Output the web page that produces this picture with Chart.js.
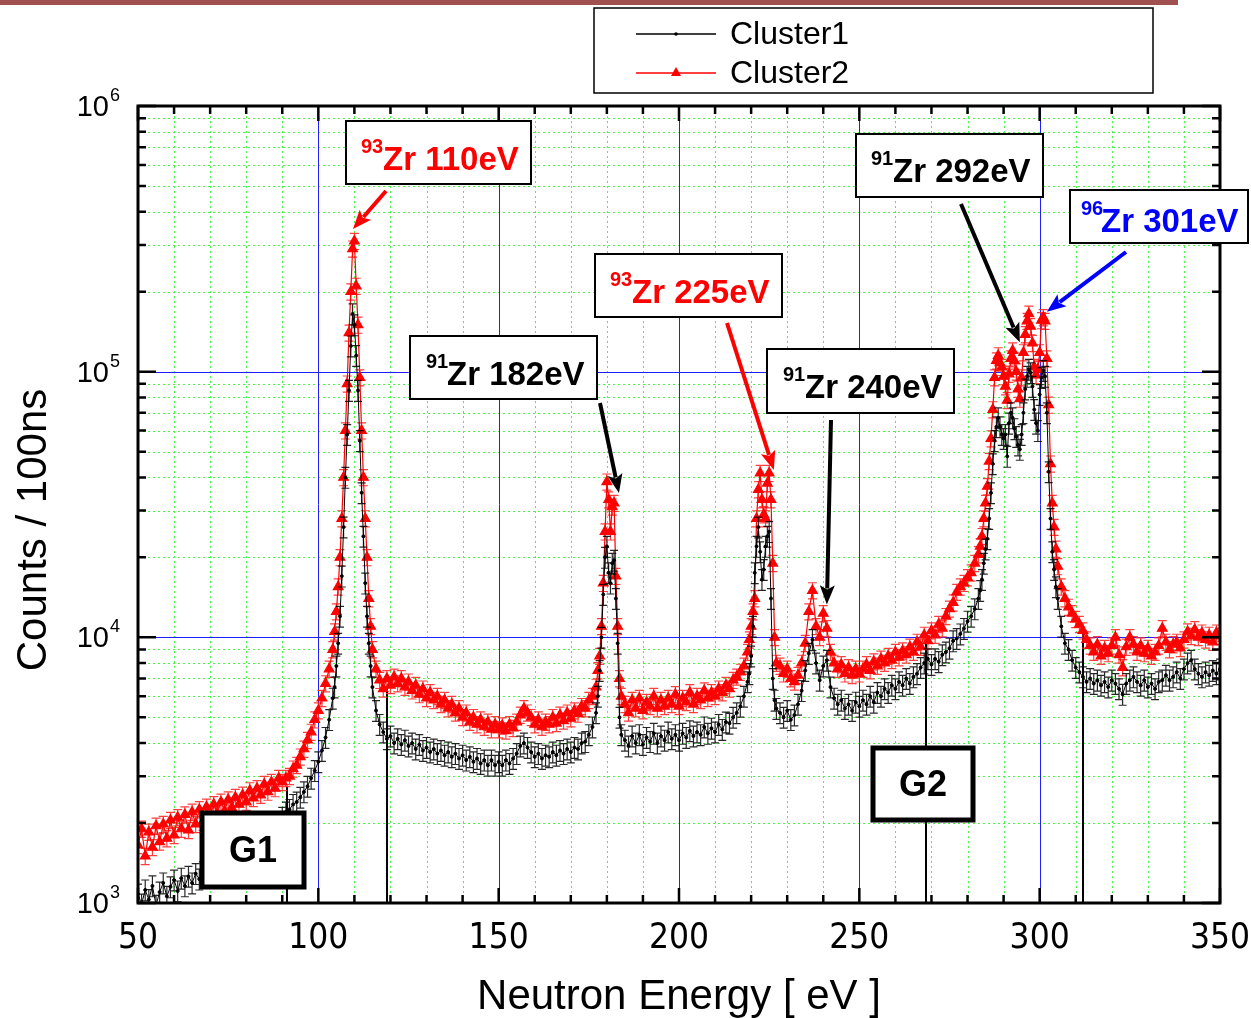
<!DOCTYPE html>
<html><head><meta charset="utf-8">
<script src="https://cdn.jsdelivr.net/npm/chart.js@4.4.1/dist/chart.umd.min.js"></script>
<style>html,body{margin:0;padding:0;background:#fff;}#wrap{width:1251px;height:1018px;}</style>
</head><body><div id="wrap"><canvas id="c" width="1251" height="1018"></canvas></div>
<script>
// ---- data ----
const energy = [
50,51,52,53,54,55,56,57,58,59,60,61,62,63,64,65,66,67,68,69,70,71,72,73,74,75,76,77,78,79,
80,81,82,83,84,85,86,87,88,89,90,91,92,93,94,95,96,97,98,99,100,101,102,103,104,
104.5,105,105.5,106,106.5,107,107.5,108,108.5,109,109.5,110,110.5,111,111.5,112,112.5,113,113.5,114,114.5,115,
116,117,118,119,120,121,122,123,124,125,126,127,128,129,130,131,132,133,134,135,136,137,138,139,140,
141,142,143,144,145,146,147,148,149,150,151,152,153,154,155,156,157,158,159,160,161,162,163,164,165,
166,167,168,169,170,171,172,173,174,175,176,177,
177.5,178,178.5,179,179.5,180,180.5,181,181.5,182,182.5,183,183.5,184,
185,186,187,188,189,190,191,192,193,194,195,196,197,198,199,200,201,202,203,204,205,206,207,208,209,
210,211,212,213,214,215,216,217,218,219,
219.5,220,220.5,221,221.5,222,222.5,223,223.5,224,224.5,225,225.5,226,226.5,227,
228,229,230,231,232,233,234,235,236,237,238,239,240,241,242,243,244,245,246,247,248,249,250,
251,252,253,254,255,256,257,258,259,260,261,262,263,264,265,266,267,268,269,270,271,272,273,274,275,
276,277,278,279,280,281,282,283,
283.5,284,284.5,285,285.5,286,286.5,287,287.5,288,288.5,289,289.5,290,290.5,291,291.5,292,292.5,293,
293.5,294,294.5,295,295.5,296,296.5,297,297.5,298,298.5,299,299.5,300,300.5,301,301.5,302,302.5,303,
303.5,304,304.5,305,
306,307,308,309,310,311,312,313,314,315,316,317,318,319,320,321,322,323,324,325,326,327,328,329,330,
331,332,333,334,335,336,337,338,339,340,341,342,343,344,345,346,347,348,349,350
];
const cluster1 = [
1080,990,1120,1030,1160,980,1100,1190,1060,1150,1220,1110,1240,1160,1260,1190,1290,1230,1310,1270,
1360,1320,1410,1370,1440,1410,1480,1450,1530,1500,1570,1600,1640,1680,1720,1780,1830,1880,1950,2020,
2100,2200,2250,2350,2400,2500,2620,2750,2950,3150,3400,3750,4200,4900,5900,
6500,7800,9500,12000,17000,26000,40000,58000,85000,125000,165000,150000,115000,85000,55000,35000,24000,16000,12000,9500,7800,6500,
5300,4700,4400,4150,4250,4000,4150,3950,4100,3900,4000,3800,3950,3750,3850,3700,3800,3650,3750,3600,
3700,3550,3650,3500,3600,3450,3550,3400,3500,3350,3450,3300,3450,3300,3400,3300,3450,3350,3500,3650,
3900,4000,3850,3700,3550,3650,3500,3600,3550,3700,3600,3750,3650,3800,3700,3850,3800,4000,4050,4300,
4600,5200,
6000,7500,10000,14500,20000,22000,17500,16000,19000,19500,14000,9500,5000,4300,
4100,3900,4250,4000,4300,3950,4200,4050,4350,4000,4250,4100,4400,4150,4300,4100,4350,4200,4450,4250,
4400,4300,4600,4350,4550,4400,4700,4500,4800,4750,5000,5200,5500,6000,6800,
7300,8500,11000,17500,22000,26000,21000,16500,18000,22000,24000,25000,14000,7000,5800,5400,
5200,5000,5300,4900,5100,5600,6300,7500,8700,9800,8000,6900,7800,8200,6500,5900,5600,5800,5400,5600,
5300,5700,5500,5800,5600,6000,5700,6200,6000,6400,6200,6600,6400,6800,6600,7000,6700,7100,7300,7700,
8000,8300,7900,8300,8100,8600,8800,9100,9700,9900,10300,10800,11500,12000,12800,14000,
15000,16500,19000,21500,23500,28000,35000,45000,55000,62000,67000,62000,58000,56000,58000,48000,64000,70000,67000,61000,
57000,53000,51000,58000,70000,86000,96000,102000,99000,88000,72000,64000,60000,82000,95000,101000,96000,70000,42000,28000,
21000,18000,15500,14000,
11000,9500,9000,8200,7700,7400,7100,6800,7000,6700,6900,6600,6800,6500,6900,6700,6400,6100,6700,6900,
7100,6800,6600,6900,6500,6700,6400,6800,6900,7200,6900,7100,7400,7000,7600,8000,8200,7600,7300,7100,
7400,7200,7500,7300,7600
];
const cluster2 = [
1650,1900,1500,1850,1620,1950,1700,1980,1750,2050,1800,2100,1900,2150,1880,2200,1980,2250,2020,2300,
2120,2350,2180,2400,2220,2450,2280,2500,2350,2550,2400,2650,2480,2700,2550,2800,2620,2850,2700,2950,
2850,2950,3000,3200,3300,3550,3800,4100,4400,4900,5300,5900,6700,7600,9000,
10500,12500,15500,20000,28000,40000,60000,90000,140000,200000,290000,310000,210000,150000,95000,60000,40000,28000,20000,14000,11000,9000,
7600,6900,6400,7000,6600,7100,6700,7000,6500,6800,6300,6600,6100,6400,5900,6200,5800,6000,5600,5800,
5400,5600,5200,5400,5000,5200,4800,5000,4700,4900,4600,4800,4500,4700,4500,4650,4450,4700,4550,4800,
5100,5400,5200,5000,4700,4900,4600,4800,4700,5000,4750,5100,4850,5200,4950,5300,5150,5500,5400,5800,
6000,6500,
7500,8500,11000,16000,25000,38500,33000,25000,31000,32000,17000,11000,7000,6000,
5600,5200,5800,5400,5900,5300,5700,5500,6000,5400,5800,5500,5900,5600,6100,5500,5900,5700,6200,5600,
6000,5800,6300,5900,6200,6000,6400,6200,6600,6400,6900,7100,7400,7800,8800,
9800,11000,12500,14000,28000,36000,41500,33000,29000,28000,38000,41500,33000,19000,10000,8000,
7800,7300,7600,7000,6800,7200,8000,9500,12500,15000,11000,10000,12300,10800,8800,8000,7600,7900,7300,7700,
7200,7600,7300,7600,7900,7500,8100,7800,8300,8000,8500,8200,8800,8400,8900,8600,9200,8800,9600,9200,
10200,9700,10600,10200,11200,10800,12000,12800,13500,14800,15500,16000,16800,17500,19000,20500,
22000,24000,28000,32000,37000,46000,56000,72000,95000,110000,115000,108000,104000,96000,88000,78000,98000,112000,120000,110000,
100000,86000,79000,95000,118000,138000,155000,165000,148000,128000,104000,97000,102000,118000,156000,160000,155000,112000,75000,45000,
32000,26000,21500,18500,
15500,14000,13000,12300,11700,11200,10600,9800,9300,8800,9400,8500,9100,8700,9300,10000,8600,7700,9200,10000,
9400,8800,9300,8700,9100,8500,8800,9300,10800,9600,9000,9400,9600,9100,9800,10500,10100,10700,10000,10400,
9800,10200,9600,10400,10100
];
const seriesNames = ['Cluster1', 'Cluster2'];
const xGrid = [50,60,70,80,90,100,110,120,130,140,150,160,170,180,190,200,210,220,230,240,250,260,270,280,290,300,310,320,330,340,350];
const xTickLabels = [50,100,150,200,250,300,350];
const yGrid = [1000,2000,3000,4000,5000,6000,7000,8000,9000,
  10000,20000,30000,40000,50000,60000,70000,80000,90000,
  100000,200000,300000,400000,500000,600000,700000,800000,900000,1000000];
const yDecades = [1000,10000,100000,1000000];
const yDecadeExp = ['3','4','5','6'];
// vertical gate marker lines (energy, top count)
const markerEnergy = [91.2, 119.1, 268.6, 312.1];
const markerTop = [2750, 6500, 9800, 11100];

// ---- decoration config (pixel layout) ----
const FONT = '"Liberation Sans", Arial, Helvetica, sans-serif';
const NARROW = '"Liberation Sans Narrow", "Arial Narrow", "DejaVu Sans Condensed", "Liberation Sans", sans-serif';
const notes = [
  {sup:'93', text:'Zr 110eV', color:'#ff0000', box:[346,121,531,184], supX:361, textX:383, base:170, tail:[386,191], tipE:109.6, tipV:344000},
  {sup:'91', text:'Zr 182eV', color:'#000000', box:[410,336,597,399], supX:426, textX:447, base:385, tail:[600,403], tipE:183.35, tipV:34900},
  {sup:'93', text:'Zr 225eV', color:'#ff0000', box:[595,254,782,317], supX:610, textX:632, base:303, tail:[727,323], tipE:226.3, tipV:42600},
  {sup:'91', text:'Zr 240eV', color:'#000000', box:[767,349,954,413], supX:783, textX:805, base:398, tail:[831,420], tipE:241.0, tipV:13300},
  {sup:'91', text:'Zr 292eV', color:'#000000', box:[856,134,1043,197], supX:871, textX:893, base:182, tail:[961,204], tipE:294.5, tipV:129000},
  {sup:'96', text:'Zr 301eV', color:'#0000ff', box:[1070,190,1248,243], supX:1081, textX:1101, base:232, tail:[1126,252], tipE:302.0, tipV:168000}
];
const gates = [
  {text:'G1', box:[202,813,304,887]},
  {text:'G2', box:[873,748,973,820]}
];

function arrow(ctx, x0, y0, x1, y1, color) {
  const a = Math.atan2(y1 - y0, x1 - x0), L = 19, W = 7.5;
  const bx = x1 - L * Math.cos(a), by = y1 - L * Math.sin(a);
  ctx.strokeStyle = color; ctx.lineWidth = 4; ctx.lineCap = 'butt';
  ctx.beginPath(); ctx.moveTo(x0, y0); ctx.lineTo(bx + 3*Math.cos(a), by + 3*Math.sin(a)); ctx.stroke();
  ctx.fillStyle = color; ctx.beginPath();
  ctx.moveTo(x1, y1);
  ctx.lineTo(bx - W * Math.sin(a), by + W * Math.cos(a));
  ctx.lineTo(bx + 4*Math.cos(a), by + 4*Math.sin(a));
  ctx.lineTo(bx + W * Math.sin(a), by - W * Math.cos(a));
  ctx.closePath(); ctx.fill();
}

const decor = {
  id: 'decor',
  beforeDraw(chart) {
    const ctx = chart.ctx;
    ctx.save();
    ctx.fillStyle = '#ffffff'; ctx.fillRect(0, 0, chart.width, chart.height);
    ctx.fillStyle = '#a0504f'; ctx.fillRect(0, 0, 1178, 5);
    ctx.restore();
  },
  beforeDatasetsDraw(chart) {
    const ctx = chart.ctx, xs = chart.scales.x, ys = chart.scales.y, a = chart.chartArea;
    ctx.save();
    // grid: minor dotted green, then major solid blue
    ctx.lineWidth = 1;
    ctx.strokeStyle = 'rgb(70,245,70)'; ctx.setLineDash([2, 3]);
    ctx.beginPath();
    xGrid.forEach(v => { if (!xTickLabels.includes(v)) { const px = Math.round(xs.getPixelForValue(v)) + 0.5; ctx.moveTo(px, a.top); ctx.lineTo(px, a.bottom); } });
    yGrid.forEach(v => { if (!yDecades.includes(v)) { const py = Math.round(ys.getPixelForValue(v)) + 0.5; ctx.moveTo(a.left, py); ctx.lineTo(a.right, py); } });
    ctx.stroke();
    ctx.setLineDash([]);
    ctx.strokeStyle = 'rgb(30,30,255)';
    ctx.beginPath();
    xTickLabels.forEach(v => { const px = Math.round(xs.getPixelForValue(v)) + 0.5; ctx.moveTo(px, a.top); ctx.lineTo(px, a.bottom); });
    yDecades.forEach(v => { const py = Math.round(ys.getPixelForValue(v)) + 0.5; ctx.moveTo(a.left, py); ctx.lineTo(a.right, py); });
    ctx.stroke();
    // gate marker lines
    ctx.strokeStyle = '#000'; ctx.lineWidth = 2;
    markerEnergy.forEach((e, i) => {
      const px = Math.round(xs.getPixelForValue(e));
      ctx.beginPath(); ctx.moveTo(px, ys.getPixelForValue(markerTop[i])); ctx.lineTo(px, ys.getPixelForValue(1000)); ctx.stroke();
    });
    ctx.restore();
  },
  beforeDatasetDraw(chart, args) {
    const ctx = chart.ctx, ys = chart.scales.y, a = chart.chartArea;
    const ds = chart.data.datasets[args.index];
    ctx.save();
    ctx.beginPath(); ctx.rect(a.left, a.top, a.right - a.left, a.bottom - a.top); ctx.clip();
    ctx.strokeStyle = ds.errColor; ctx.lineWidth = 1.2;
    ctx.beginPath();
    args.meta.data.forEach((pt, i) => {
      const v = ds.data[i].y, e = ds.errRel, w = ds.capHalf;
      const y1 = ys.getPixelForValue(v * (1 + e)), y2 = ys.getPixelForValue(v * (1 - e));
      ctx.moveTo(pt.x, y1); ctx.lineTo(pt.x, y2);
      ctx.moveTo(pt.x - w, y1); ctx.lineTo(pt.x + w, y1);
      ctx.moveTo(pt.x - w, y2); ctx.lineTo(pt.x + w, y2);
    });
    ctx.stroke();
    ctx.restore();
  },
  afterDatasetsDraw(chart) {
    const ctx = chart.ctx, xs = chart.scales.x, ys = chart.scales.y, a = chart.chartArea;
    ctx.save();
    // inward ticks
    ctx.strokeStyle = '#000'; ctx.lineWidth = 2.5;
    ctx.beginPath();
    xGrid.forEach(v => {
      const px = xs.getPixelForValue(v), len = xTickLabels.includes(v) ? 15 : 8;
      ctx.moveTo(px, a.bottom); ctx.lineTo(px, a.bottom - len);
      ctx.moveTo(px, a.top); ctx.lineTo(px, a.top + len);
    });
    yGrid.forEach(v => {
      const py = ys.getPixelForValue(v), len = yDecades.includes(v) ? 18 : 8;
      ctx.moveTo(a.left, py); ctx.lineTo(a.left + len, py);
      ctx.moveTo(a.right, py); ctx.lineTo(a.right - len, py);
    });
    ctx.stroke();
    // frame
    ctx.lineWidth = 3;
    ctx.strokeRect(a.left, a.top, a.right - a.left, a.bottom - a.top);
    // x tick labels
    ctx.fillStyle = '#000';
    ctx.font = '35px ' + NARROW; ctx.textAlign = 'center'; ctx.textBaseline = 'middle';
    xTickLabels.forEach(v => ctx.fillText(String(v), xs.getPixelForValue(v), 939));
    // y tick labels with superscripts
    yDecades.forEach((v, i) => {
      const py = ys.getPixelForValue(v);
      ctx.font = '29px ' + FONT; ctx.textAlign = 'right'; ctx.textBaseline = 'middle';
      ctx.fillText('10', 109, py + 2);
      ctx.font = '18px ' + FONT; ctx.textAlign = 'left';
      ctx.fillText(yDecadeExp[i], 110, py - 10);
    });
    // axis titles
    ctx.font = '42px ' + FONT; ctx.textAlign = 'center'; ctx.textBaseline = 'middle';
    ctx.fillText('Neutron Energy [ eV ]', (a.left + a.right) / 2, 997);
    ctx.save();
    ctx.translate(34, 530); ctx.rotate(-Math.PI / 2);
    ctx.fillText('Counts / 100ns', 0, 0);
    ctx.restore();
    // annotations
    notes.forEach(n => {
      const [x0, y0, x1, y1] = n.box;
      ctx.fillStyle = '#fff'; ctx.fillRect(x0, y0, x1 - x0, y1 - y0);
      ctx.strokeStyle = '#000'; ctx.lineWidth = 2; ctx.strokeRect(x0, y0, x1 - x0, y1 - y0);
      ctx.fillStyle = n.color; ctx.textAlign = 'left'; ctx.textBaseline = 'alphabetic';
      ctx.font = 'bold 20px ' + FONT; ctx.fillText(n.sup, n.supX, n.base - 17);
      ctx.font = 'bold 33px ' + FONT; ctx.fillText(n.text, n.textX, n.base);
      arrow(ctx, n.tail[0], n.tail[1], xs.getPixelForValue(n.tipE), ys.getPixelForValue(n.tipV), n.color);
    });
    // gate boxes
    gates.forEach(g => {
      const [x0, y0, x1, y1] = g.box;
      ctx.fillStyle = '#fff'; ctx.fillRect(x0, y0, x1 - x0, y1 - y0);
      ctx.strokeStyle = '#000'; ctx.lineWidth = 5; ctx.strokeRect(x0, y0, x1 - x0, y1 - y0);
      ctx.fillStyle = '#000'; ctx.font = 'bold 36px ' + FONT; ctx.textAlign = 'center'; ctx.textBaseline = 'middle';
      ctx.fillText(g.text, (x0 + x1) / 2, (y0 + y1) / 2 + 2);
    });
    // legend
    ctx.fillStyle = '#fff'; ctx.fillRect(594, 8, 559, 85);
    ctx.strokeStyle = '#000'; ctx.lineWidth = 1.5; ctx.strokeRect(594, 8, 559, 85);
    const ds = chart.data.datasets;
    [34, 73].forEach((ly, i) => {
      ctx.strokeStyle = ds[i].borderColor; ctx.lineWidth = 1.3;
      ctx.beginPath(); ctx.moveTo(636, ly); ctx.lineTo(716, ly); ctx.stroke();
      ctx.fillStyle = ds[i].backgroundColor;
      if (i === 0) { ctx.beginPath(); ctx.arc(676, ly, 1.8, 0, Math.PI * 2); ctx.fill(); }
      else { ctx.beginPath(); ctx.moveTo(676, ly - 6); ctx.lineTo(681, ly + 3); ctx.lineTo(671, ly + 3); ctx.closePath(); ctx.fill(); }
      ctx.fillStyle = '#000'; ctx.font = '32px ' + FONT; ctx.textAlign = 'left'; ctx.textBaseline = 'middle';
      ctx.fillText(seriesNames[i], 730, ly + 1);
    });
    ctx.restore();
  }
};

new Chart(document.getElementById('c'), {
  type: 'line',
  data: {
    datasets: [
      { label: seriesNames[0], data: energy.map((e, i) => ({x: e, y: cluster1[i]})),
        borderColor: '#000000', backgroundColor: '#000000', borderWidth: 1, pointRadius: 1.5, pointStyle: 'circle',
        errRel: 0.09, capHalf: 4, errColor: 'rgba(0,0,0,0.85)' },
      { label: seriesNames[1], data: energy.map((e, i) => ({x: e, y: cluster2[i]})),
        borderColor: '#ff0000', backgroundColor: '#ff0000', borderWidth: 1.2, pointRadius: 5.6, pointStyle: 'triangle',
        errRel: 0.07, capHalf: 4.5, errColor: 'rgba(255,40,40,0.9)' }
    ]
  },
  options: {
    responsive: false, animation: false, devicePixelRatio: 1,
    layout: {padding: {top: 106, right: 31, left: 0, bottom: 0}},
    plugins: {legend: {display: false}, tooltip: {enabled: false}},
    scales: {
      x: {
        type: 'linear', min: 50, max: 350,
        afterFit(s) { s.height = 115; s.paddingRight = 0; s.paddingLeft = 0; },
        afterBuildTicks(s) { s.ticks = xGrid.map(v => ({value: v})); },
        ticks: {display: false},
        grid: {display: false},
        border: {display: false}
      },
      y: {
        type: 'logarithmic', min: 1000, max: 1000000,
        afterFit(s) { s.width = 138; s.paddingTop = 0; s.paddingBottom = 0; },
        afterBuildTicks(s) { s.ticks = yGrid.map(v => ({value: v})); },
        ticks: {display: false},
        grid: {display: false},
        border: {display: false}
      }
    }
  },
  plugins: [decor]
});
</script></body></html>
